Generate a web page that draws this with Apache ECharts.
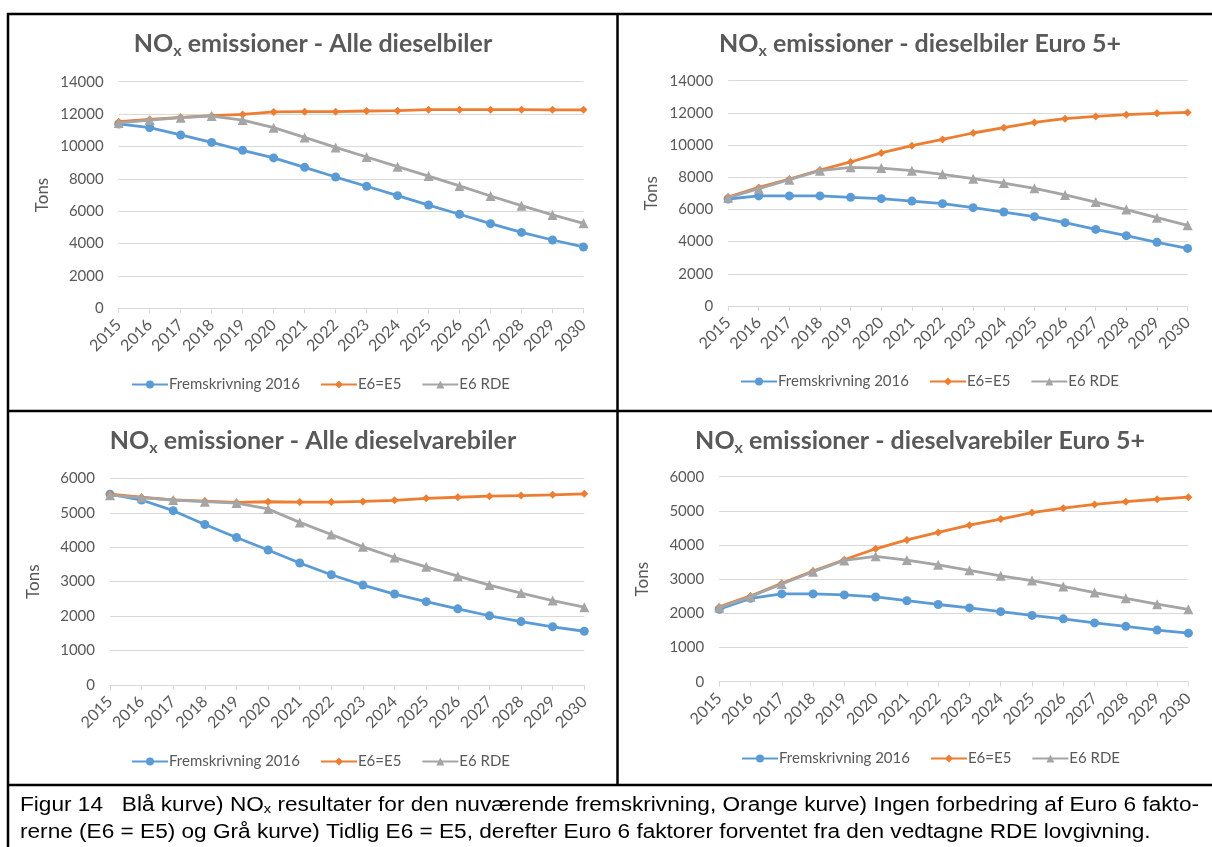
<!DOCTYPE html>
<html>
<head>
<meta charset="utf-8">
<script src="https://cdn.jsdelivr.net/npm/echarts@6/dist/echarts.min.js"></script>
<style>
html,body{margin:0;padding:0;background:#fff;}
#c{width:1212px;height:847px;}
</style>
</head>
<body>
<div id="c"></div>
<script>
// ---------- DATA ----------
const years = ['2015','2016','2017','2018','2019','2020','2021','2022','2023','2024','2025','2026','2027','2028','2029','2030'];
const seriesNames = ['Fremskrivning 2016', 'E6=E5', 'E6 RDE'];

// Panel 1: Alle dieselbiler
const p1Blue   = [11390,11160,10710,10250,9760,9290,8710,8110,7540,6960,6380,5810,5230,4690,4220,3790];
const p1Orange = [11530,11670,11800,11900,11980,12130,12150,12150,12190,12210,12270,12270,12270,12270,12260,12260];
const p1Gray   = [11450,11630,11780,11880,11630,11160,10560,9940,9350,8750,8170,7560,6940,6340,5770,5250];

// Panel 2: dieselbiler Euro 5+
const p2Blue   = [6650,6840,6840,6840,6750,6670,6520,6360,6110,5840,5550,5180,4760,4370,3960,3580];
const p2Orange = [6770,7370,7890,8450,8950,9510,9960,10350,10750,11080,11410,11640,11780,11890,11970,12030];
const p2Gray   = [6730,7290,7850,8410,8620,8570,8410,8180,7910,7640,7310,6900,6460,5990,5490,5010];

// Panel 3: Alle dieselvarebiler
const p3Blue   = [5540,5370,5060,4660,4280,3920,3540,3200,2900,2640,2420,2210,2010,1840,1690,1560];
const p3Orange = [5540,5450,5370,5340,5300,5320,5310,5310,5330,5360,5420,5450,5480,5500,5520,5550];
const p3Gray   = [5510,5440,5370,5320,5280,5110,4720,4370,4010,3700,3430,3160,2900,2670,2450,2260];

// Panel 4: dieselvarebiler Euro 5+
const p4Blue   = [2120,2440,2570,2570,2540,2480,2370,2260,2160,2050,1940,1840,1720,1620,1510,1420];
const p4Orange = [2190,2510,2880,3240,3570,3890,4150,4370,4580,4760,4950,5080,5190,5270,5340,5400];
const p4Gray   = [2170,2490,2860,3220,3550,3670,3560,3420,3260,3100,2960,2790,2610,2440,2270,2120];

const titles = [
  ' emissioner - Alle dieselbiler',
  ' emissioner - dieselbiler Euro 5+',
  ' emissioner - Alle dieselvarebiler',
  ' emissioner - dieselvarebiler Euro 5+'
];
const yMax = [14000, 14000, 6000, 6000];
const yStep = [2000, 2000, 1000, 1000];
const yName = 'Tons';

const captionLine1a = 'Figur 14   Blå kurve) NO';
const captionLine1b = 'x';
const captionLine1c = ' resultater for den nuværende fremskrivning, Orange kurve) Ingen forbedring af Euro 6 fakto-';
const captionLine2 = 'rerne (E6 = E5) og Grå kurve) Tidlig E6 = E5, derefter Euro 6 faktorer forventet fra den vedtagne RDE lovgivning.';

// ---------- LAYOUT / STYLE ----------
const panelData = [
  [p1Blue, p1Orange, p1Gray],
  [p2Blue, p2Orange, p2Gray],
  [p3Blue, p3Orange, p3Gray],
  [p4Blue, p4Orange, p4Gray]
];
const grids = [
  {left: 118.7, right: 628.5, top: 81.7, bottom: 538.7},
  {left: 728.1, right: 24.4, top: 80.7, bottom: 541},
  {left: 110,   right: 627.7, top: 478.3, bottom: 162},
  {left: 719.2, right: 23.6, top: 476.7, bottom: 165.3}
];
const titlePos = [[313, 44], [920, 44], [313, 441], [920, 441]];
const legendPos = [[126, 372], [735, 369], [126, 749], [736, 746]];
const colors = ['#5B9BD5', '#ED7D31', '#A5A5A5'];
const symbols = ['circle', 'diamond', 'triangle'];
const symbolSizes = [9, 8, 10];
const FONT = 'Lato';
const textGray = '#595959';
const gridGray = '#D9D9D9';

const xAxes = [], yAxes = [], series = [], legends = [], graphics = [];

grids.forEach((g, i) => {
  xAxes.push({
    type: 'category', gridIndex: i, data: years, boundaryGap: false,
    axisLine: {lineStyle: {color: gridGray, width: 1}},
    axisTick: {show: true, length: 5, lineStyle: {color: gridGray}},
    axisLabel: {rotate: 45, interval: 0, fontSize: 16, color: textGray, fontFamily: FONT, margin: 14}
  });
  yAxes.push({
    type: 'value', gridIndex: i, min: 0, max: yMax[i], interval: yStep[i],
    name: yName, nameLocation: 'middle', nameGap: 68, nameRotate: 90,
    nameTextStyle: {fontSize: 17, color: textGray, fontFamily: FONT},
    axisLine: {show: false}, axisTick: {show: false},
    splitLine: {lineStyle: {color: gridGray, width: 1}},
    axisLabel: {fontSize: 15, color: textGray, fontFamily: FONT, margin: 15, formatter: v => String(v)}
  });
  panelData[i].forEach((d, k) => {
    series.push({
      type: 'line', name: seriesNames[k], xAxisIndex: i, yAxisIndex: i, data: d,
      symbol: symbols[k], symbolSize: symbolSizes[k], showAllSymbol: true,
      lineStyle: {color: colors[k], width: 2.8},
      itemStyle: {color: colors[k]},
      z: 2 + k
    });
  });
  legends.push({
    left: legendPos[i][0], top: legendPos[i][1], orient: 'horizontal',
    itemWidth: 36, itemHeight: 10, itemGap: 20,
    textStyle: {fontSize: 15, color: textGray, fontFamily: FONT, padding: [0, 0, 0, -4]},
    data: seriesNames.slice()
  });
  graphics.push({
    type: 'text', x: titlePos[i][0], y: titlePos[i][1], silent: true,
    style: {
      text: '{a|NO}{s|x}{a|' + titles[i] + '}',
      align: 'center', verticalAlign: 'middle',
      rich: {
        a: {fontSize: 25, fontWeight: 'bold', fontFamily: FONT, fill: textGray, lineHeight: 30},
        s: {fontSize: 16, fontWeight: 'bold', fontFamily: FONT, fill: textGray, lineHeight: 16, verticalAlign: 'bottom'}
      }
    }
  });
});

// table borders
const BW = 2.5;
[[7, 14, 1212, 14], [8, 13, 8, 847], [617.5, 14, 617.5, 785], [7, 411, 1212, 411], [7, 785, 1212, 785]]
  .forEach(l => graphics.push({type: 'line', silent: true, shape: {x1: l[0], y1: l[1], x2: l[2], y2: l[3]}, style: {stroke: '#000', lineWidth: BW}}));

// caption (fit width)
const capFont = 'Liberation Sans';
const capSize = 20, capSub = 13;
const cv = document.createElement('canvas').getContext('2d');
cv.font = capSize + 'px "' + capFont + '"';
let w1 = cv.measureText(captionLine1a).width + cv.measureText(captionLine1c).width;
cv.font = capSub + 'px "' + capFont + '"';
w1 += cv.measureText(captionLine1b).width;
const capScale = 1179 / w1;
graphics.push({
  type: 'text', x: 20, y: 805, scaleX: capScale, silent: true,
  style: {
    text: '{a|' + captionLine1a + '}{s|' + captionLine1b + '}{a|' + captionLine1c + '}',
    verticalAlign: 'middle', align: 'left',
    rich: {
      a: {fontSize: capSize, fontFamily: capFont, fill: '#000', lineHeight: 22},
      s: {fontSize: capSub, fontFamily: capFont, fill: '#000', lineHeight: 13, verticalAlign: 'bottom'}
    }
  }
});
graphics.push({
  type: 'text', x: 20, y: 832, scaleX: capScale, silent: true,
  style: {text: captionLine2, fontSize: capSize, fontFamily: capFont, fill: '#000', verticalAlign: 'middle', align: 'left'}
});

const chart = echarts.init(document.getElementById('c'), null, {renderer: 'canvas'});
chart.setOption({
  animation: false,
  backgroundColor: '#fff',
  grid: grids,
  xAxis: xAxes,
  yAxis: yAxes,
  legend: legends,
  series: series,
  graphic: graphics
});
</script>
</body>
</html>
